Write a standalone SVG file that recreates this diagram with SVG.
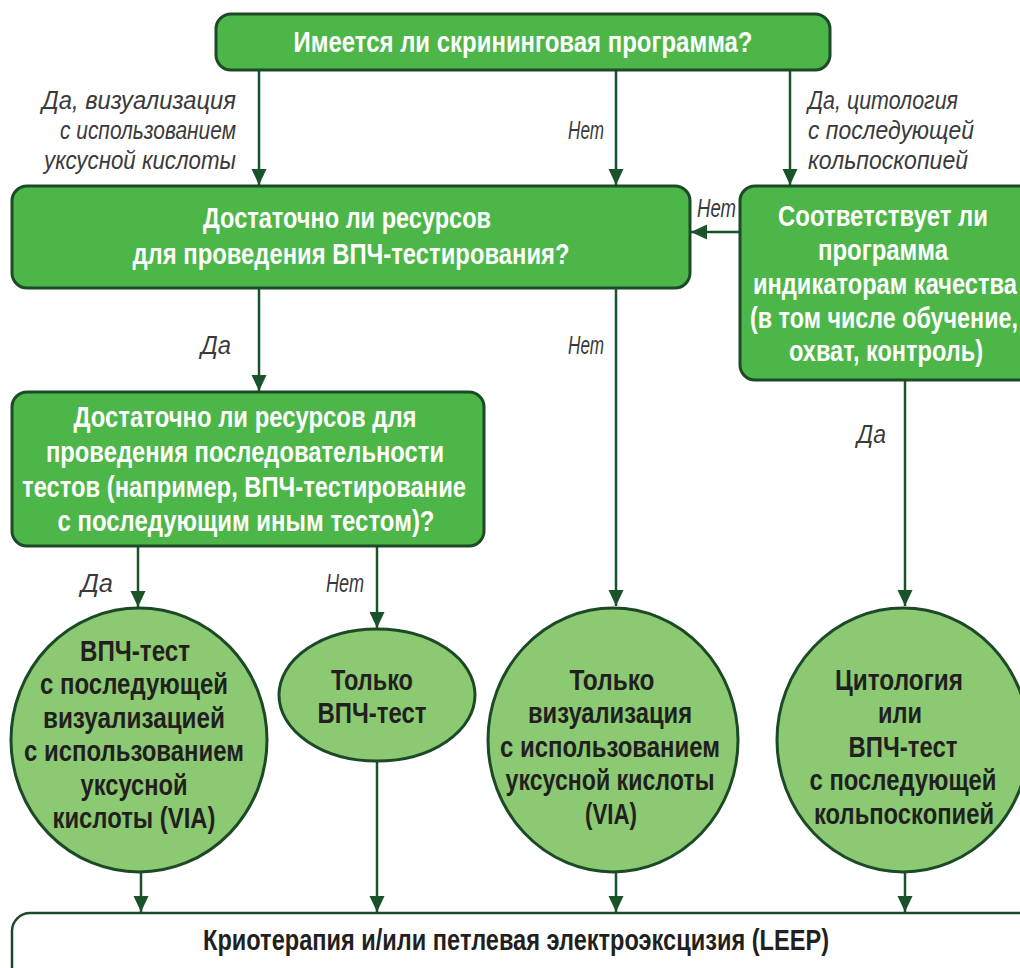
<svg xmlns="http://www.w3.org/2000/svg" width="1020" height="968" viewBox="0 0 1020 968">
<defs>
<style>
.box{fill:#4cb648;stroke:#1d4a26;stroke-width:3}
.circ{fill:#8bc972;stroke:#1d4a26;stroke-width:3}
.end{fill:#ffffff;stroke:#1d4a26;stroke-width:2.5}
.wt{font-family:"Liberation Sans",Arial,sans-serif;font-weight:bold;font-size:29px;fill:#ffffff;text-anchor:middle}
.dt{font-family:"Liberation Sans",Arial,sans-serif;font-weight:bold;font-size:29px;fill:#231f20;text-anchor:middle}
.lb{font-family:"Liberation Sans",Arial,sans-serif;font-style:italic;font-size:25px;fill:#3a3a3a}
.cn{stroke:#1a5229;stroke-width:2.5;fill:none;marker-end:url(#ah)}
</style>
<marker id="ah" markerUnits="userSpaceOnUse" markerWidth="16" markerHeight="18" viewBox="0 0 16 18" refX="16" refY="9" orient="auto">
<path d="M0,1.5 L16,9 L0,16.5 Z" fill="#1a5229"/>
</marker>
</defs>

<g id="connectors">
<line class="cn" x1="259" y1="70" x2="259" y2="185"/>
<line class="cn" x1="616" y1="70" x2="616" y2="185"/>
<line class="cn" x1="790" y1="70" x2="790" y2="185"/>
<line class="cn" x1="740" y1="232" x2="691" y2="232"/>
<line class="cn" x1="259" y1="288" x2="259" y2="391"/>
<line class="cn" x1="616" y1="288" x2="616" y2="606"/>
<line class="cn" x1="905" y1="380" x2="905" y2="606"/>
<line class="cn" x1="138" y1="546" x2="138" y2="607"/>
<line class="cn" x1="377" y1="546" x2="377" y2="628"/>
<line class="cn" x1="141" y1="873" x2="141" y2="912"/>
<line class="cn" x1="377" y1="760" x2="377" y2="912"/>
<line class="cn" x1="616" y1="873" x2="616" y2="912"/>
<line class="cn" x1="905" y1="873" x2="905" y2="912"/>
<g id="labels">
<text class="lb" text-anchor="end" x="236" y="109" textLength="194" lengthAdjust="spacingAndGlyphs">Да, визуализация</text>
<text class="lb" text-anchor="end" x="236" y="139" textLength="176" lengthAdjust="spacingAndGlyphs">с использованием</text>
<text class="lb" text-anchor="end" x="236" y="169" textLength="192" lengthAdjust="spacingAndGlyphs">уксусной кислоты</text>
<text class="lb" x="568" y="139" textLength="36" lengthAdjust="spacingAndGlyphs">Нет</text>
<text class="lb" x="808" y="109" textLength="150" lengthAdjust="spacingAndGlyphs">Да, цитология</text>
<text class="lb" x="808" y="139" textLength="166" lengthAdjust="spacingAndGlyphs">с последующей</text>
<text class="lb" x="808" y="169" textLength="160" lengthAdjust="spacingAndGlyphs">кольпоскопией</text>
<text class="lb" x="697" y="217" textLength="39" lengthAdjust="spacingAndGlyphs">Нет</text>
<text class="lb" x="201" y="354" textLength="30" lengthAdjust="spacingAndGlyphs">Да</text>
<text class="lb" x="568" y="354" textLength="36" lengthAdjust="spacingAndGlyphs">Нет</text>
<text class="lb" x="857" y="443" textLength="29" lengthAdjust="spacingAndGlyphs">Да</text>
<text class="lb" x="81" y="592" textLength="32" lengthAdjust="spacingAndGlyphs">Да</text>
<text class="lb" x="326" y="592" textLength="38" lengthAdjust="spacingAndGlyphs">Нет</text>
</g>
</g>

<g id="q1">
<rect class="box" x="216" y="14" width="614" height="56" rx="15"/>
<text class="wt" x="523" y="52" textLength="459" lengthAdjust="spacingAndGlyphs">Имеется ли скрининговая программа?</text>
</g>

<g id="q2">
<rect class="box" x="12" y="186" width="678" height="102" rx="15"/>
<text class="wt" x="347" y="228" textLength="288" lengthAdjust="spacingAndGlyphs">Достаточно ли ресурсов</text>
<text class="wt" x="351" y="264" textLength="437" lengthAdjust="spacingAndGlyphs">для проведения ВПЧ-тестирования?</text>
</g>

<g id="q3">
<rect class="box" x="740" y="186" width="300" height="194" rx="15"/>
<text class="wt" x="883" y="226" textLength="210" lengthAdjust="spacingAndGlyphs">Соответствует ли</text>
<text class="wt" x="883" y="260" textLength="130" lengthAdjust="spacingAndGlyphs">программа</text>
<text class="wt" x="885" y="294" textLength="264" lengthAdjust="spacingAndGlyphs">индикаторам качества</text>
<text class="wt" x="884" y="328" textLength="268" lengthAdjust="spacingAndGlyphs">(в том числе обучение,</text>
<text class="wt" x="886" y="361" textLength="194" lengthAdjust="spacingAndGlyphs">охват, контроль)</text>
</g>

<g id="q4">
<rect class="box" x="12" y="392" width="472" height="154" rx="15"/>
<text class="wt" x="245" y="427" textLength="343" lengthAdjust="spacingAndGlyphs">Достаточно ли ресурсов для</text>
<text class="wt" x="245" y="462" textLength="398" lengthAdjust="spacingAndGlyphs">проведения последовательности</text>
<text class="wt" x="244" y="497" textLength="444" lengthAdjust="spacingAndGlyphs">тестов (например, ВПЧ-тестирование</text>
<text class="wt" x="246" y="531" textLength="377" lengthAdjust="spacingAndGlyphs">с последующим иным тестом)?</text>
</g>

<g id="r1">
<ellipse class="circ" cx="139" cy="740" rx="128" ry="132"/>
<text class="dt" x="135" y="661" textLength="110" lengthAdjust="spacingAndGlyphs">ВПЧ-тест</text>
<text class="dt" x="134" y="694" textLength="188" lengthAdjust="spacingAndGlyphs">с последующей</text>
<text class="dt" x="134" y="728" textLength="182" lengthAdjust="spacingAndGlyphs">визуализацией</text>
<text class="dt" x="134" y="761" textLength="220" lengthAdjust="spacingAndGlyphs">с использованием</text>
<text class="dt" x="134" y="795" textLength="107" lengthAdjust="spacingAndGlyphs">уксусной</text>
<text class="dt" x="134" y="828" textLength="163" lengthAdjust="spacingAndGlyphs">кислоты (VIA)</text>
</g>

<g id="r2">
<ellipse class="circ" cx="377" cy="695" rx="98" ry="66"/>
<text class="dt" x="372" y="690" textLength="82" lengthAdjust="spacingAndGlyphs">Только</text>
<text class="dt" x="372" y="723" textLength="109" lengthAdjust="spacingAndGlyphs">ВПЧ-тест</text>
</g>

<g id="r3">
<ellipse class="circ" cx="613" cy="740" rx="125" ry="132"/>
<text class="dt" x="612" y="690" textLength="85" lengthAdjust="spacingAndGlyphs">Только</text>
<text class="dt" x="610" y="723" textLength="164" lengthAdjust="spacingAndGlyphs">визуализация</text>
<text class="dt" x="610" y="757" textLength="220" lengthAdjust="spacingAndGlyphs">с использованием</text>
<text class="dt" x="610" y="790" textLength="209" lengthAdjust="spacingAndGlyphs">уксусной кислоты</text>
<text class="dt" x="611" y="824" textLength="52" lengthAdjust="spacingAndGlyphs">(VIA)</text>
</g>

<g id="r4">
<ellipse class="circ" cx="903" cy="740" rx="126" ry="132"/>
<text class="dt" x="899" y="690" textLength="128" lengthAdjust="spacingAndGlyphs">Цитология</text>
<text class="dt" x="900" y="723" textLength="44" lengthAdjust="spacingAndGlyphs">или</text>
<text class="dt" x="903" y="757" textLength="109" lengthAdjust="spacingAndGlyphs">ВПЧ-тест</text>
<text class="dt" x="903" y="790" textLength="187" lengthAdjust="spacingAndGlyphs">с последующей</text>
<text class="dt" x="904" y="824" textLength="180" lengthAdjust="spacingAndGlyphs">кольпоскопией</text>
</g>

<g id="treatment">
<rect class="end" x="12" y="913" width="1030" height="80" rx="18"/>
<text class="dt" x="516" y="950" textLength="626" lengthAdjust="spacingAndGlyphs">Криотерапия и/или петлевая электроэксцизия (LEEP)</text>
</g>
</svg>
